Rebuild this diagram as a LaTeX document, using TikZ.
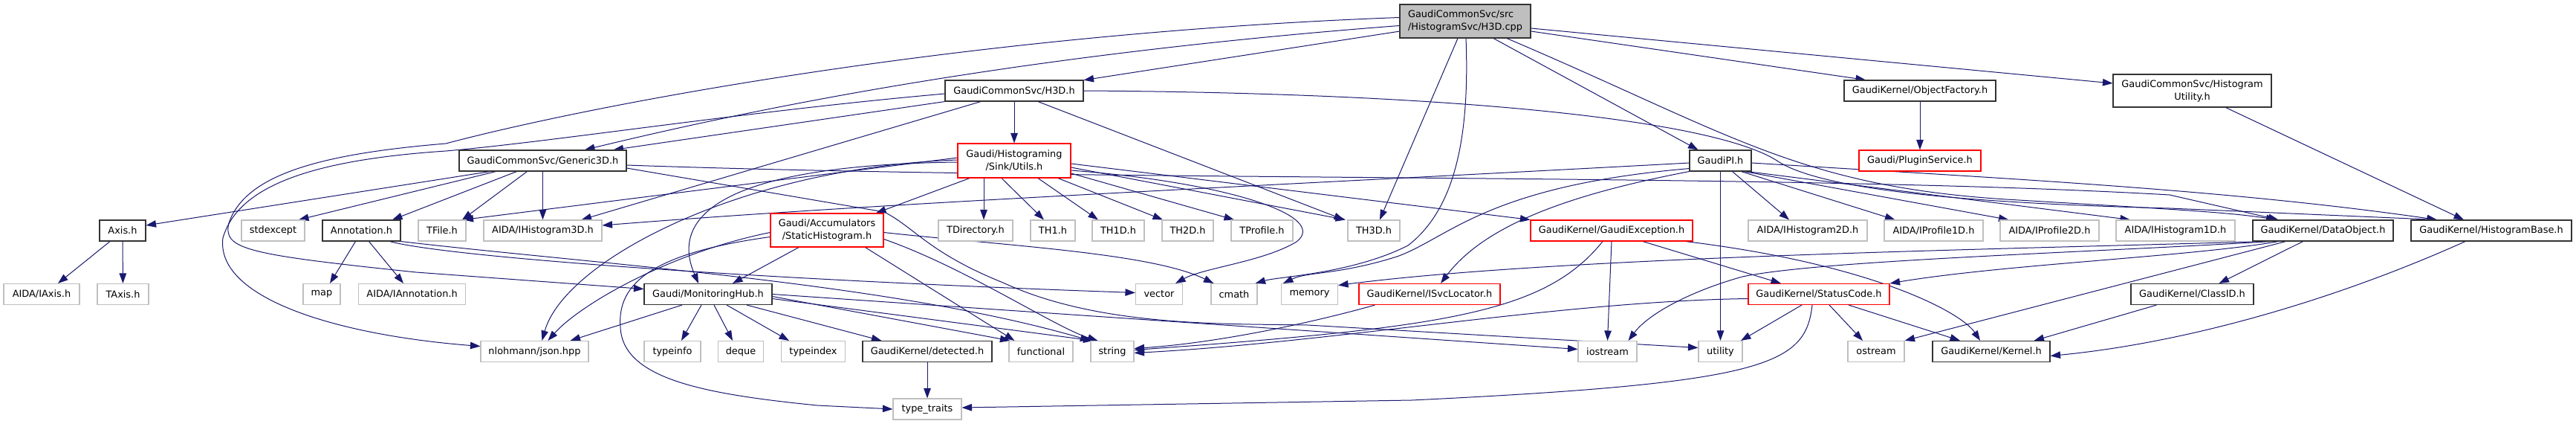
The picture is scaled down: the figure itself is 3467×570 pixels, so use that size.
\documentclass[tikz,border=0pt]{standalone}
\usepackage{fontspec}
\setmainfont{DejaVu Sans}
\usetikzlibrary{arrows.meta}
\definecolor{mblue}{HTML}{191970}
\definecolor{gsev}{HTML}{BFBFBF}
\newcommand\nfs{\fontsize{12.9pt}{17pt}\selectfont}
\pgfdeclarelayer{bg}
\pgfsetlayers{bg,main}
\tikzset{
  nb/.style={rectangle, inner sep=0pt, minimum height=28pt, line width=1.1pt, font=\nfs, fill=white},
  loc/.style={nb, draw=black!80},
  sys/.style={nb, draw=gsev},
  trn/.style={nb, draw=red},
  rootn/.style={nb, draw=black!80, fill=gsev},
  edg/.style={draw=mblue, line width=1pt, -{Triangle[length=13.5pt,width=9.5pt]}},
}
\begin{document}
\begin{tikzpicture}[x=1pt,y=-1pt]
\useasboundingbox (0,0) rectangle (3467,570);
% level 0-2
\node[rootn, minimum width=176pt, minimum height=45pt, align=left] (root) at (1972,28.5) {GaudiCommonSvc/src\\/HistogramSvc/H3D.cpp};
\node[loc, minimum width=186pt] (h3d) at (1365,122) {GaudiCommonSvc/H3D.h};
\node[loc, minimum width=204pt] (objfac) at (2584,122) {GaudiKernel/ObjectFactory.h};
\node[loc, minimum width=213pt, minimum height=44pt, align=center] (histutil) at (2950.5,122) {GaudiCommonSvc/Histogram\\Utility.h};
\node[trn, minimum width=152pt, minimum height=46pt, align=center] (utils) at (1365,216) {Gaudi/Histograming\\/Sink/Utils.h};
\node[loc, minimum width=225pt] (gen3d) at (730.5,216) {GaudiCommonSvc/Generic3D.h};
\node[loc, minimum width=83pt] (gaudipi) at (2315.5,216) {GaudiPI.h};
\node[trn, minimum width=164pt] (plugin) at (2584,216) {Gaudi/PluginService.h};
% row 3
\node[loc, minimum width=62pt] (axis) at (165,310) {Axis.h};
\node[sys, minimum width=85pt] (stdexcept) at (367.5,310) {stdexcept};
\node[loc, minimum width=105pt] (annot) at (486.5,310) {Annotation.h};
\node[sys, minimum width=64pt] (tfile) at (595,310) {TFile.h};
\node[sys, minimum width=159pt] (ih3d) at (730.5,310) {AIDA/IHistogram3D.h};
\node[trn, minimum width=152pt, minimum height=45pt, align=center] (statichist) at (1113,309.5) {Gaudi/Accumulators\\/StaticHistogram.h};
\node[sys, minimum width=100pt] (tdir) at (1313,310) {TDirectory.h};
\node[sys, minimum width=60pt] (th1) at (1417,310) {TH1.h};
\node[sys, minimum width=70pt] (th1d) at (1505,310) {TH1D.h};
\node[sys, minimum width=69pt] (th2d) at (1598.5,310) {TH2D.h};
\node[sys, minimum width=83pt] (tprof) at (1698.5,310) {TProfile.h};
\node[sys, minimum width=70pt] (th3d) at (1849,310) {TH3D.h};
\node[trn, minimum width=218pt] (gexc) at (2169,310) {GaudiKernel/GaudiException.h};
\node[sys, minimum width=160pt] (ih2d) at (2433,310) {AIDA/IHistogram2D.h};
\node[sys, minimum width=133pt] (ip1d) at (2602.5,310) {AIDA/IProfile1D.h};
\node[sys, minimum width=133pt] (ip2d) at (2758.5,310) {AIDA/IProfile2D.h};
\node[sys, minimum width=160pt] (ih1d) at (2928,310) {AIDA/IHistogram1D.h};
\node[loc, minimum width=189pt] (dataobj) at (3126.5,310) {GaudiKernel/DataObject.h};
\node[loc, minimum width=216pt] (histbase) at (3353,310) {GaudiKernel/HistogramBase.h};
% row 4
\node[sys, minimum width=102pt] (iaxis) at (56,395.5) {AIDA/IAxis.h};
\node[sys, minimum width=69pt] (taxis) at (165.5,395.5) {TAxis.h};
\node[sys, minimum width=50pt] (map) at (433,395.5) {map};
\node[sys, minimum width=144pt] (iannot) at (554.6,395.5) {AIDA/IAnnotation.h};
\node[loc, minimum width=172pt] (monhub) at (953,395.5) {Gaudi/MonitoringHub.h};
\node[sys, minimum width=63pt] (vector) at (1560,395.5) {vector};
\node[sys, minimum width=62pt] (cmath) at (1661,395.5) {cmath};
\node[sys, minimum width=76pt] (memory) at (1762.5,395.5) {memory};
\node[trn, minimum width=190pt] (isvcloc) at (1924,395.5) {GaudiKernel/ISvcLocator.h};
\node[trn, minimum width=190pt] (statuscode) at (2448,395.5) {GaudiKernel/StatusCode.h};
\node[loc, minimum width=165pt] (classid) at (2950.5,395.5) {GaudiKernel/ClassID.h};
% row 5
\node[sys, minimum width=145pt] (json) at (719.5,472.5) {nlohmann/json.hpp};
\node[sys, minimum width=76pt] (typeinfo) at (905,472.5) {typeinfo};
\node[sys, minimum width=61pt] (deque) at (997,472.5) {deque};
\node[sys, minimum width=86pt] (typeindex) at (1094.5,472.5) {typeindex};
\node[loc, minimum width=174pt] (detected) at (1248,472.5) {GaudiKernel/detected.h};
\node[sys, minimum width=86pt] (functional) at (1401,472.5) {functional};
\node[sys, minimum width=58pt] (string) at (1497,472.5) {string};
\node[sys, minimum width=79pt] (iostream) at (2163.5,472.5) {iostream};
\node[sys, minimum width=59pt] (utility) at (2315.5,472.5) {utility};
\node[sys, minimum width=76pt] (ostream) at (2525,472.5) {ostream};
\node[loc, minimum width=158pt] (kernel) at (2680,472.5) {GaudiKernel/Kernel.h};
% row 6
\node[sys, minimum width=92pt] (typetraits) at (1248,550) {type\_traits};

\begin{pgfonlayer}{bg}
\fill[white] (0,0) rectangle (3467,570);
% root
\draw[edg] (root) -- (h3d);
\draw[edg] ([yshift=-6pt]root.west) .. controls (1350,75) and (1000,150) .. ([xshift=56.5pt]gen3d.north);
\draw[edg] ([yshift=5pt]root.west) .. controls (1300,45) and (800,140) .. (600,193) .. controls (430,207) and (330,235) .. (308,300) .. controls (300,335) and (330,342) .. (560,366) -- ([yshift=7pt]monhub.west);
\draw[edg] ([xshift=38pt]root.south) -- ([xshift=-30pt]gaudipi.north);
\draw[edg] ([yshift=-13.5pt]root.east) -- ([xshift=-73pt]objfac.north);
\draw[edg] ([yshift=-9.5pt]root.east) -- ([yshift=10pt]histutil.west);
\draw[edg] ([xshift=-10pt]root.south) -- ([xshift=8pt]th3d.north);
\draw[edg] ([xshift=1pt]root.south) .. controls (1978,180) and (1960,280) .. (1895,330) .. controls (1820,368) and (1720,372) .. ([xshift=-3pt]cmath.north east);
\draw[edg] ([xshift=56pt]root.south) .. controls (2330,180) and (2420,250) .. (2700,268) .. controls (2900,280) and (3000,285) .. ([xshift=-63pt]dataobj.north);
% H3D.h
\draw[edg] (h3d) -- (utils);
\draw[edg] (h3d.south west) -- ([xshift=95pt]gen3d.north);
\draw[edg] ([xshift=-45pt]h3d.south) -- ([xshift=52pt]ih3d.north);
\draw[edg] ([xshift=32pt]h3d.south) -- ([xshift=-40pt]th3d.north);
\draw[edg] ([yshift=-4pt]h3d.west) .. controls (1000,150) and (750,190) .. (600,203) .. controls (420,215) and (320,250) .. (300,320) .. controls (290,400) and (450,450) .. ([yshift=7pt]json.west);
\draw[edg] (h3d.east) .. controls (1950,125) and (2300,160) .. (2390,215) .. controls (2440,250) and (2600,272) .. (2920,280) -- ([xshift=-73pt]histbase.north);
% ObjectFactory, HistogramUtility
\draw[edg] (objfac) -- (plugin);
\draw[edg] ([xshift=45pt]histutil.south) -- ([xshift=-37pt]histbase.north);
% Generic3D.h
\draw[edg] ([xshift=42pt]gen3d.south west) -- ([yshift=7pt]axis.east);
\draw[edg] ([xshift=50pt]gen3d.south west) -- ([xshift=34.5pt]stdexcept.north);
\draw[edg] ([xshift=78pt]gen3d.south west) -- ([xshift=41.5pt]annot.north);
\draw[edg] ([xshift=92pt]gen3d.south west) -- ([xshift=27pt]tfile.north);
\draw[edg] (gen3d) -- (ih3d);
\draw[edg] ([yshift=-6pt]gen3d.east) .. controls (1500,245) and (2400,232) .. (2920,262) -- ([xshift=-60pt]dataobj.north);
\draw[edg] ([yshift=-10pt]gen3d.east) -- (1190,285) .. controls (1230,305) and (1250,340) .. (1350,380) .. controls (1480,440) and (1650,435) .. (1760,437) -- ([yshift=5pt]utility.west);
% Utils.h
\draw[edg] ([xshift=-60pt]utils.south) -- ([xshift=66pt]statichist.north);
\draw[edg] ([xshift=-41pt]utils.south) -- ([xshift=11pt]tdir.north);
\draw[edg] ([xshift=-17pt]utils.south) -- ([xshift=-12pt]th1.north);
\draw[edg] ([xshift=32pt]utils.south) -- ([xshift=-27pt]th1d.north);
\draw[edg] ([xshift=59pt]utils.south) -- ([xshift=-33.5pt]th2d.north);
\draw[edg] ([yshift=-17pt]utils.east) -- ([xshift=-37.5pt]tprof.north);
\draw[edg] ([yshift=-9pt]utils.east) -- ([xshift=-38pt]th3d.north);
\draw[edg] ([yshift=-4pt]utils.east) -- (gexc.north west);
\draw[edg] ([yshift=-13pt]utils.east) .. controls (1650,245) and (1790,290) .. (1745,325) .. controls (1700,352) and (1620,360) .. ([xshift=-10pt]vector.north east);
\draw[edg] ([yshift=4pt]utils.west) -- ([xshift=-4pt]tfile.north east);
\draw[edg] ([yshift=-2pt]utils.west) .. controls (950,222) and (905,300) .. ([xshift=-13pt]monhub.north);
\draw[edg] ([yshift=1pt]utils.west) .. controls (1000,225) and (760,350) .. ([xshift=10pt]json.north);
% StaticHistogram.h
\draw[edg] ([xshift=-38pt]statichist.south) -- ([xshift=33pt]monhub.north);
\draw[edg] ([yshift=-3pt]statichist.west) .. controls (900,340) and (780,410) .. ([xshift=18pt]json.north);
\draw[edg] ([yshift=-9pt]statichist.west) .. controls (880,340) and (830,380) .. (835,440) .. controls (838,510) and (950,530) .. (1100,545) -- (typetraits.west);
\draw[edg] ([yshift=-3pt]statichist.east) .. controls (1350,330) and (1550,340) .. ([xshift=4pt]cmath.north west);
\draw[edg] ([yshift=-12pt]statichist.east) .. controls (1300,360) and (1420,440) .. ([xshift=10pt]string.north west);
\draw[edg] ([xshift=-25pt]statichist.south east) -- ([xshift=8pt]functional.north west);
% MonitoringHub.h
\draw[edg] ([xshift=-35pt]monhub.south) -- ([xshift=-25pt]json.north east);
\draw[edg] ([xshift=-9pt]monhub.south) -- ([xshift=12pt]typeinfo.north);
\draw[edg] ([xshift=8pt]monhub.south) -- ([xshift=-11pt]deque.north);
\draw[edg] ([xshift=25pt]monhub.south) -- ([xshift=-32.5pt]typeindex.north);
\draw[edg] ([xshift=52pt]monhub.south) -- ([xshift=26pt]detected.north west);
\draw[edg] ([yshift=-3pt]monhub.east) -- ([xshift=2pt]functional.north west);
\draw[edg] ([yshift=-6pt]monhub.east) -- ([xshift=4pt]string.north west);
\draw[edg] (monhub.east) -- ([yshift=3pt]iostream.west);
% Annotation.h
\draw[edg] ([xshift=-8pt]annot.south) -- ([xshift=11pt]map.north);
\draw[edg] ([xshift=10pt]annot.south) -- ([xshift=-11.6pt]iannot.north);
\draw[edg] ([xshift=-15pt]annot.south east) .. controls (600,345) and (1000,375) .. ([yshift=2pt]vector.west);
\draw[edg] (annot.south east) .. controls (800,355) and (1200,380) .. (string.north west);
% Axis.h, detected.h
\draw[edg] ([xshift=-17pt]axis.south) -- ([xshift=22pt]iaxis.north);
\draw[edg] (axis) -- (taxis);
\draw[edg] (detected) -- (typetraits);
% GaudiPI.h
\draw[edg] ([yshift=-3pt]gaudipi.west) .. controls (1700,250) and (1200,272) .. ([yshift=7pt]ih3d.east);
\draw[edg] ([xshift=16pt]gaudipi.south) -- ([xshift=-25pt]ih2d.north);
\draw[edg] ([xshift=28pt]gaudipi.south) -- ([xshift=-52pt]ip1d.north);
\draw[edg] ([xshift=32pt]gaudipi.south) -- ([xshift=-55pt]ip2d.north);
\draw[edg] ([xshift=36pt]gaudipi.south) -- ([xshift=-61pt]ih1d.north);
\draw[edg] ([yshift=-3pt]gaudipi.east) .. controls (2700,240) and (3000,255) .. ([xshift=-73pt]histbase.north);
\draw[edg] (gaudipi.south west) .. controls (2120,260) and (2000,300) .. ([xshift=15pt]isvcloc.north);
\draw[edg] ([yshift=4pt]gaudipi.south west) .. controls (2000,250) and (1950,320) .. (1880,345) .. controls (1800,370) and (1760,365) .. ([xshift=3pt]memory.north west);
\draw[edg] (gaudipi) -- (utility);
% GaudiException.h
\draw[edg] ([xshift=42pt]gexc.south) -- ([xshift=-51pt]statuscode.north);
\draw[edg] ([xshift=-10pt]gexc.south east) .. controls (2520,355) and (2640,420) .. ([xshift=-15pt]kernel.north);
\draw[edg] (gexc.south) -- (iostream.north);
\draw[edg] ([xshift=-12pt]gexc.south) .. controls (2080,420) and (1950,440) .. ([yshift=2pt]string.east);
% ISvcLocator.h
\draw[edg] ([xshift=22pt]isvcloc.south west) .. controls (1780,430) and (1650,460) .. ([yshift=4pt]string.east);
% StatusCode.h
\draw[edg] ([xshift=-23pt]statuscode.south) -- ([xshift=27.5pt]utility.north);
\draw[edg] ([xshift=-9pt]statuscode.south) .. controls (2430,490) and (2380,515) .. (1900,538) -- ([yshift=2pt]typetraits.east);
\draw[edg] ([xshift=14pt]statuscode.south) -- ([xshift=-18pt]ostream.north);
\draw[edg] ([xshift=40pt]statuscode.south) -- ([xshift=-42pt]kernel.north);
\draw[edg] ([yshift=-6pt]statuscode.west) .. controls (2100,405) and (1800,460) .. ([yshift=-2pt]string.east);
% DataObject.h
\draw[edg] ([xshift=-27pt]dataobj.south) -- ([xshift=36pt]classid.north);
\draw[edg] ([xshift=-60pt]dataobj.south) .. controls (2950,345) and (2700,355) .. (statuscode.north east);
\draw[edg] ([xshift=-50pt]dataobj.south) -- (ostream.north east);
\draw[edg] ([xshift=-70pt]dataobj.south) .. controls (2800,340) and (2450,350) .. (2345,372) .. controls (2280,390) and (2220,420) .. ([xshift=-12pt]iostream.north east);
\draw[edg] ([xshift=-80pt]dataobj.south) .. controls (2700,335) and (2100,345) .. ([yshift=12pt]memory.east);
% ClassID.h, HistogramBase.h
\draw[edg] ([xshift=-48pt]classid.south) -- ([xshift=-22pt]kernel.north east);
\draw[edg] ([xshift=-35pt]histbase.south) .. controls (3150,400) and (2950,460) .. ([yshift=-6pt]kernel.east);
\end{pgfonlayer}
\end{tikzpicture}
\end{document}
